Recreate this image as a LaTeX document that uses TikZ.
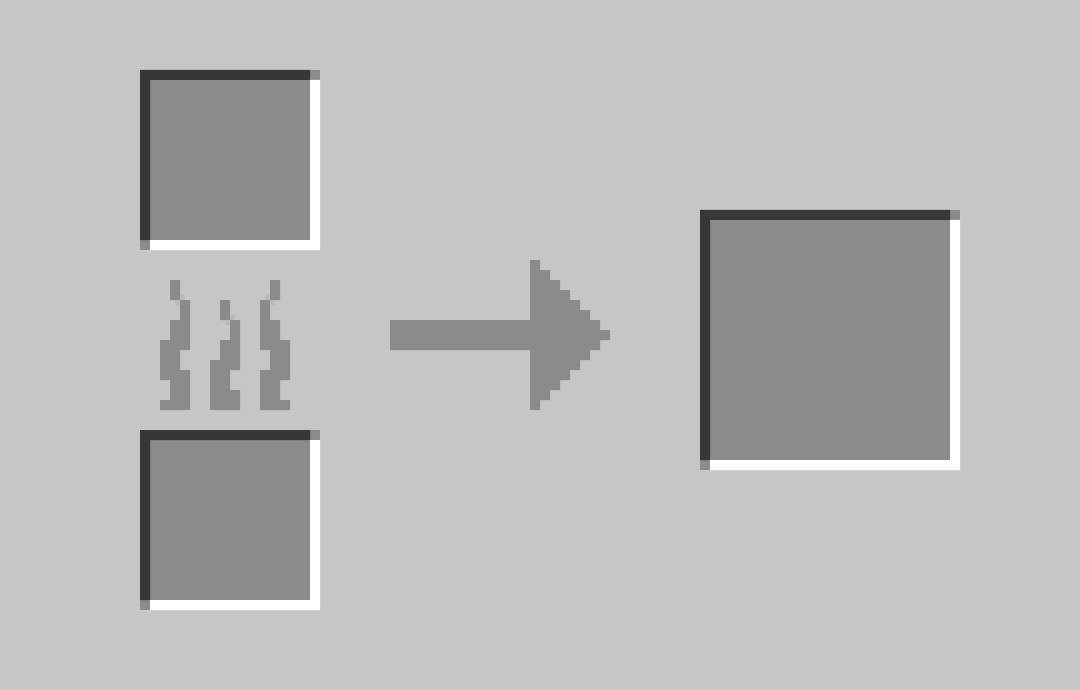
\documentclass[tikz,border=0pt]{standalone}
\definecolor{bgc}{HTML}{C6C6C6}
\definecolor{slotc}{HTML}{8B8B8B}
\definecolor{darkc}{HTML}{373737}
\definecolor{softc}{HTML}{BABABA}
\tikzset{
  slotfill/.style={fill=slotc,draw=none},
  slotdark/.style={fill=darkc,draw=none},
  slotlight/.style={fill=white,draw=none},
  flame/.style={fill=slotc,draw=none},
  flamesoft/.style={fill=softc,draw=none},
  bigarrow/.style={fill=slotc,draw=none}
}
% #1 = left, #2 = top, #3 = side length
\newcommand{\mcslot}[3]{%
  \fill[slotfill] (#1,#2) rectangle ++(#3,#3);
  \fill[slotdark] (#1,#2) -- ++(#3-10,0) -- ++(0,10) -- ++(-#3+20,0) -- ++(0,#3-20) -- ++(-10,0) -- cycle;
  \fill[slotlight] (#1+#3,#2+#3) -- ++(-#3+10,0) -- ++(0,-10) -- ++(#3-20,0) -- ++(0,-#3+20) -- ++(10,0) -- cycle;
}
\begin{document}
\begin{tikzpicture}[x=1pt,y=-1pt]
\useasboundingbox (0,0) rectangle (1080,690);
\fill[bgc] (0,0) rectangle (1080,690);
\mcslot{140}{70}{180}
\mcslot{140}{430}{180}
\mcslot{700}{210}{260}
% flames
\fill[flame] (170,280) -- (180,280) -- (180,300) -- (190,300) -- (190,350) -- (180,350) -- (180,370) -- (190,370) -- (190,410) -- (160,410) -- (160,400) -- (170,400) -- (170,380) -- (160,380) -- (160,340) -- (170,340) -- (170,320) -- (180,320) -- (180,300) -- (170,300) -- cycle;
\fill[flamesoft] (180,295) rectangle (185,300);
\fill[flamesoft] (175,300) rectangle (180,305);
\fill[flame] (220,300) -- (230,300) -- (230,320) -- (240,320) -- (240,370) -- (230,370) -- (230,390) -- (240,390) -- (240,410) -- (210,410) -- (210,360) -- (220,360) -- (220,340) -- (230,340) -- (230,320) -- (220,320) -- cycle;
\fill[flamesoft] (230,315) rectangle (235,320);
\fill[flamesoft] (225,320) rectangle (230,325);
\fill[flame] (280,280) -- (270,280) -- (270,300) -- (260,300) -- (260,350) -- (270,350) -- (270,370) -- (260,370) -- (260,410) -- (290,410) -- (290,400) -- (280,400) -- (280,380) -- (290,380) -- (290,340) -- (280,340) -- (280,320) -- (270,320) -- (270,300) -- (280,300) -- cycle;
\fill[flamesoft] (265,295) rectangle (270,300);
\fill[flamesoft] (270,300) rectangle (275,305);
% arrow
\fill[bigarrow] (390,320) -- (530,320) -- (530,260) -- (540,260) -- (540,270) -- (550,270) -- (550,280) -- (560,280) -- (560,290) -- (570,290) -- (570,300) -- (580,300) -- (580,310) -- (590,310) -- (590,320) -- (600,320) -- (600,330) -- (610,330) -- (610,340) -- (600,340) -- (600,350) -- (590,350) -- (590,360) -- (580,360) -- (580,370) -- (570,370) -- (570,380) -- (560,380) -- (560,390) -- (550,390) -- (550,400) -- (540,400) -- (540,410) -- (530,410) -- (530,350) -- (390,350) -- cycle;
\end{tikzpicture}
\end{document}
